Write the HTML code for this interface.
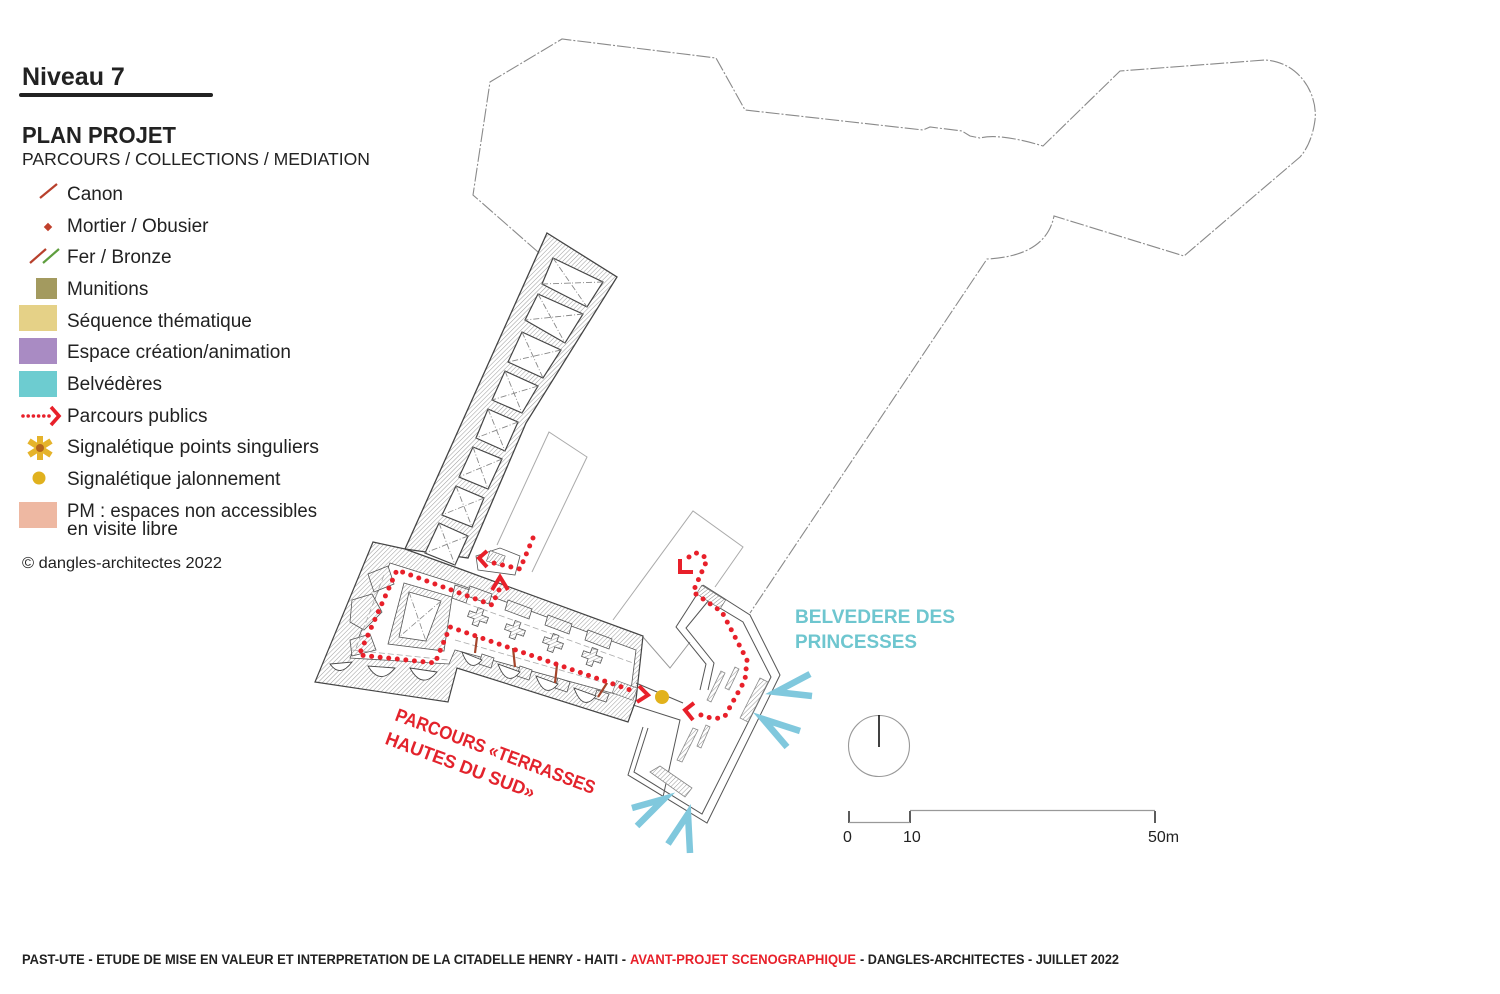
<!DOCTYPE html>
<html><head><meta charset="utf-8">
<style>
html,body{margin:0;padding:0;background:#fff;}
svg{display:block;}
text{font-family:"Liberation Sans",Arial,sans-serif;}
</style></head><body>
<svg width="1500" height="994" viewBox="0 0 1500 994" xmlns="http://www.w3.org/2000/svg">
<defs>
<pattern id="h" width="3.2" height="3.2" patternUnits="userSpaceOnUse" patternTransform="rotate(45)">
<rect width="3.2" height="3.2" fill="#fff"/>
<line x1="0" y1="0" x2="0" y2="3.2" stroke="#9a9a9a" stroke-width="1"/>
</pattern>
<pattern id="st" width="3" height="3" patternUnits="userSpaceOnUse" patternTransform="rotate(20)">
<rect width="3" height="3" fill="#fff"/>
<line x1="0" y1="0" x2="0" y2="3" stroke="#666" stroke-width="0.8"/>
</pattern>
<path id="cross" d="M-10,-3 H-3 V-9 H3 V-3 H10 V3 H3 V9 H-3 V3 H-10 Z"/>
</defs>
<rect width="1500" height="994" fill="#fff"/>

<!-- ============ LEGEND ============ -->
<text x="22" y="85" font-size="25" font-weight="bold" fill="#222">Niveau 7</text>
<line x1="21" y1="95" x2="211" y2="95" stroke="#222" stroke-width="4" stroke-linecap="round"/>
<text x="22" y="143" font-size="23" font-weight="bold" fill="#222" textLength="154" lengthAdjust="spacingAndGlyphs">PLAN PROJET</text>
<text x="22" y="165" font-size="17.5" fill="#222" textLength="348" lengthAdjust="spacingAndGlyphs">PARCOURS / COLLECTIONS / MEDIATION</text>

<g font-size="19" fill="#222">
<text x="67" y="200">Canon</text>
<text x="67" y="232">Mortier / Obusier</text>
<text x="67" y="263">Fer / Bronze</text>
<text x="67" y="295">Munitions</text>
<text x="67" y="327">Séquence thématique</text>
<text x="67" y="358">Espace création/animation</text>
<text x="67" y="390">Belvédères</text>
<text x="67" y="422">Parcours publics</text>
<text x="67" y="453" textLength="252" lengthAdjust="spacingAndGlyphs">Signalétique points singuliers</text>
<text x="67" y="485">Signalétique jalonnement</text>
<text x="67" y="517" textLength="250" lengthAdjust="spacingAndGlyphs">PM : espaces non accessibles</text>
<text x="67" y="535">en visite libre</text>
</g>
<text x="22" y="568" font-size="16" fill="#222" textLength="200" lengthAdjust="spacingAndGlyphs">© dangles-architectes 2022</text>

<!-- legend icons -->
<line x1="40" y1="198" x2="57" y2="184" stroke="#b8402c" stroke-width="2.2"/>
<rect x="45" y="224" width="6" height="6" fill="#c0402c" transform="rotate(45 48 227)"/>
<line x1="30" y1="263" x2="46" y2="249" stroke="#b8402c" stroke-width="2.2"/>
<line x1="43" y1="263" x2="59" y2="249" stroke="#5e9e3e" stroke-width="2.2"/>
<rect x="36" y="278" width="21" height="21" fill="#a39a5f"/>
<rect x="19" y="305" width="38" height="26" fill="#e5d187"/>
<rect x="19" y="338" width="38" height="26" fill="#a98bc3"/>
<rect x="19" y="371" width="38" height="26" fill="#6dccd0"/>
<line x1="23" y1="416" x2="49" y2="416" stroke="#e8202a" stroke-width="3.6" stroke-dasharray="0 5.2" stroke-linecap="round"/>
<polyline points="51,407 59,416 51,425" fill="none" stroke="#e8202a" stroke-width="3.6"/>
<g transform="translate(40,448)" stroke="#e5b32b" stroke-width="6" stroke-linecap="butt">
<line x1="0" y1="-12" x2="0" y2="12"/>
<line x1="-11" y1="-7" x2="11" y2="7"/>
<line x1="-11" y1="7" x2="11" y2="-7"/>
</g>
<circle cx="40" cy="448" r="4" fill="#b5651d"/>
<circle cx="39" cy="478" r="6.5" fill="#e0b11e"/>
<rect x="19" y="502" width="38" height="26" fill="#eeb8a2"/>

<!-- ============ SITE OUTLINE (dash-dot) ============ -->
<path d="M538,252 L473,195 L490,82 L562,39 L716,58 L745,110 L923,130 L930,127 L962,131 L970,136 L980,138 Q1000,133 1043,146 L1120,71 L1265,60 C1300,62 1318,95 1315,120 C1313,135 1308,148 1300,157 L1184,256 L1054,216 Q1046,256 987,259 L750,613"
 fill="none" stroke="#8a8a8a" stroke-width="1.1" stroke-dasharray="14 2 2 2"/>

<!-- thin gray rectangles -->
<polyline points="497,545 549,432 587,457 532,572" fill="none" stroke="#aaa" stroke-width="1"/>
<polyline points="613,620 693,511 743,547 715,587" fill="none" stroke="#aaa" stroke-width="1"/>
<polyline points="643,637 670,668 690,642" fill="none" stroke="#999" stroke-width="1"/>

<!-- ============ TOWER ============ -->
<polygon points="547,233 617,277 526,423 468,558 405,549" fill="url(#h)" stroke="#444" stroke-width="1.3"/>
<g fill="#fff" stroke="#444" stroke-width="1.2">
<polygon points="553,258 603,282 587,307 542,284"/>
<polygon points="538,294 583,314 565,343 525,320"/>
<polygon points="522,332 561,350 543,378 508,362"/>
<polygon points="505,371 538,386 522,413 492,400"/>
<polygon points="488,409 518,422 505,451 476,438"/>
<polygon points="473,447 502,459 488,489 459,477"/>
<polygon points="456,486 484,498 472,527 442,515"/>
<polygon points="439,523 468,536 455,565 425,553"/>
</g>
<g stroke="#888" stroke-width="0.9" stroke-dasharray="6 2 1 2" fill="none">
<line x1="553" y1="258" x2="587" y2="307"/><line x1="603" y1="282" x2="542" y2="284"/>
<line x1="538" y1="294" x2="565" y2="343"/><line x1="583" y1="314" x2="525" y2="320"/>
<line x1="522" y1="332" x2="543" y2="378"/><line x1="561" y1="350" x2="508" y2="362"/>
<line x1="505" y1="371" x2="522" y2="413"/><line x1="538" y1="386" x2="492" y2="400"/>
<line x1="488" y1="409" x2="505" y2="451"/><line x1="518" y1="422" x2="476" y2="438"/>
<line x1="473" y1="447" x2="488" y2="489"/><line x1="502" y1="459" x2="459" y2="477"/>
<line x1="456" y1="486" x2="472" y2="527"/><line x1="484" y1="498" x2="442" y2="515"/>
<line x1="439" y1="523" x2="455" y2="565"/><line x1="468" y1="536" x2="425" y2="553"/>
</g>

<!-- ============ MAIN BUILDING ============ -->
<polygon points="373,542 405,549 463,570 643,636 636,700 628,722 457,668 448,702 315,682" fill="url(#h)" stroke="#444" stroke-width="1.2"/>
<!-- small room near tower base with stair -->
<polygon points="476,556 500,548 520,556 515,575 478,570" fill="#fff" stroke="#555" stroke-width="0.8"/>
<rect x="488" y="553" width="16" height="11" fill="url(#st)" stroke="#666" stroke-width="0.6" transform="rotate(20 496 558)"/>
<!-- interiors -->
<polygon points="390,563 463,586 636,650 630,698 455,650 449,664 350,658" fill="#fff" stroke="#555" stroke-width="0.8"/>
<!-- left wing piers -->
<polygon points="352,600 372,594 382,612 364,630 350,622" fill="url(#h)" stroke="#555" stroke-width="0.8"/>
<polygon points="368,574 388,566 394,584 374,592" fill="url(#h)" stroke="#555" stroke-width="0.8"/>
<polygon points="350,640 370,634 376,650 352,656" fill="url(#h)" stroke="#555" stroke-width="0.8"/>
<polygon points="455,585 470,590 466,603 452,598" fill="url(#h)" stroke="#555" stroke-width="0.8"/>
<!-- central block with X-room -->
<polygon points="404,583 452,597 444,651 388,644" fill="url(#h)" stroke="#555" stroke-width="0.8"/>
<polygon points="409,592 441,601 426,641 399,637" fill="#fff" stroke="#555" stroke-width="0.8"/>
<g stroke="#888" stroke-width="0.8" stroke-dasharray="6 2 1 2"><line x1="409" y1="592" x2="426" y2="641"/><line x1="441" y1="601" x2="399" y2="637"/></g>
<!-- main wing top wall protrusions -->
<g fill="url(#h)" stroke="#555" stroke-width="0.8">
<polygon points="470,586 492,594 489,604 467,596"/>
<polygon points="508,600 532,609 529,619 505,610"/>
<polygon points="548,615 572,624 569,634 545,625"/>
<polygon points="588,630 612,639 609,649 585,640"/>
</g>
<g fill="url(#h)" stroke="#555" stroke-width="0.8">
<use href="#cross" transform="translate(478,617) rotate(20)"/>
<use href="#cross" transform="translate(515,630) rotate(20)"/>
<use href="#cross" transform="translate(553,643) rotate(20)"/>
<use href="#cross" transform="translate(592,657) rotate(20)"/>
</g>
<!-- bottom wall piers -->
<g fill="url(#h)" stroke="#555" stroke-width="0.8">
<polygon points="482,654 494,658 491,668 479,664"/>
<polygon points="520,666 532,670 529,680 517,676"/>
<polygon points="558,678 570,682 567,692 555,688"/>
<polygon points="597,690 609,694 606,702 594,698"/>
</g>
<!-- bottom scallops -->
<g fill="#fff" stroke="#444" stroke-width="0.9">
<path d="M462,652 Q470,674 482,660 Z"/>
<path d="M498,664 Q507,688 520,672 Z"/>
<path d="M536,676 Q545,700 558,684 Z"/>
<path d="M574,688 Q583,712 596,696 Z"/>
<path d="M330,664 Q340,678 352,662 Z"/>
<path d="M368,666 Q380,686 395,668 Z"/>
<path d="M410,668 Q422,690 437,672 Z"/>
</g>
<!-- dashed axes -->
<g stroke="#aaa" stroke-width="0.8" stroke-dasharray="6 3" fill="none">
<line x1="455" y1="640" x2="630" y2="690"/>
<line x1="465" y1="603" x2="636" y2="664"/>
<line x1="352" y1="650" x2="448" y2="660"/>
<line x1="384" y1="575" x2="356" y2="648"/>
</g>
<!-- canons -->
<g stroke="#a4452b" stroke-width="2.2">
<line x1="477" y1="637" x2="475" y2="653"/>
<line x1="513" y1="648" x2="515" y2="667"/>
<line x1="557" y1="665" x2="555" y2="683"/>
<line x1="607" y1="683" x2="598" y2="697"/>
</g>
<!-- stair at right end -->
<rect x="614" y="684" width="22" height="13" fill="url(#st)" stroke="#666" stroke-width="0.6" transform="rotate(20 625 690)"/>

<!-- ============ ANNEX ============ -->
<g fill="none" stroke="#555" stroke-width="1">
<polyline points="703,585 750,615 780,675 707,823 628,775 643,727"/>
<polyline points="700,596 743,622 771,677 702,814 634,772 648,728"/>
<polyline points="703,585 676,627 706,664 700,690"/>
<polyline points="709,600 686,628 714,663 708,690"/>
<polyline points="636,683 683,703"/>
<polyline points="633,705 680,720 663,797"/>
</g>
<rect x="697" y="592" width="28" height="10" fill="url(#st)" stroke="#666" stroke-width="0.6" transform="rotate(32 711 597)"/>
<g fill="url(#h)" stroke="#888" stroke-width="0.8">
<polygon points="707,700 721,671 725,673 711,702"/>
<polygon points="725,688 735,667 739,669 729,690"/>
<polygon points="740,718 760,678 768,682 748,722"/>
<polygon points="677,760 693,728 698,730 682,762"/>
<polygon points="697,746 706,725 710,727 701,748"/>
<polygon points="650,772 660,766 692,788 685,797"/>
</g>

<!-- ============ RED PATHS ============ -->
<g fill="none" stroke="#e8202a" stroke-width="5" stroke-dasharray="0 8.6" stroke-linecap="round" stroke-linejoin="round">
<path d="M499,590 L492,605 L397,570 L359,655 L435,663 L450,627 L636,692"/>
<path d="M533,538 L520,569 L489,562"/>
<path d="M689,557 Q698,548 707,560 L693,592 L722,612 L747,660 L745,680 L725,716 Q715,722 694,712"/>
</g>
<g fill="none" stroke="#e8202a" stroke-width="4" stroke-linecap="butt" stroke-linejoin="miter">
<polyline points="492,590 500,577 508,590"/>
<polyline points="487,551 479,558 487,567"/>
<polyline points="639,686 648,695 637,702"/>
<polyline points="680,559 680,572 693,572"/>
<polyline points="694,703 685,710 693,720"/>
</g>
<circle cx="662" cy="697" r="7" fill="#e2b21c"/>

<!-- ============ BELVEDERE ARROWS ============ -->
<g fill="none" stroke="#80c8dd" stroke-width="6.5" stroke-linecap="butt" stroke-linejoin="miter">
<polyline points="810,674 776,692 812,696"/>
<polyline points="800,731 763,719 787,747"/>
<polyline points="632,808 664,799 637,826"/>
<polyline points="668,844 688,814 690,853"/>
</g>

<text x="795" y="623" font-size="19" font-weight="bold" fill="#6ec6cf" textLength="160" lengthAdjust="spacingAndGlyphs">BELVEDERE DES</text>
<text x="795" y="648" font-size="19" font-weight="bold" fill="#6ec6cf" textLength="122" lengthAdjust="spacingAndGlyphs">PRINCESSES</text>

<g transform="translate(394,720) rotate(20.5)" fill="#e3232c" font-size="18.5" font-weight="bold">
<text x="0" y="0" textLength="212" lengthAdjust="spacingAndGlyphs">PARCOURS «TERRASSES</text>
<text x="-1" y="25.5" textLength="158" lengthAdjust="spacingAndGlyphs">HAUTES DU SUD»</text>
</g>

<!-- ============ COMPASS & SCALE ============ -->
<circle cx="879" cy="746" r="30.5" fill="none" stroke="#999" stroke-width="1.1"/>
<line x1="879" y1="715" x2="879" y2="747" stroke="#111" stroke-width="1.6"/>
<g stroke="#333" stroke-width="1.6">
<line x1="849" y1="811" x2="849" y2="823"/>
<line x1="910" y1="811" x2="910" y2="823"/>
<line x1="1155" y1="811" x2="1155" y2="823"/>
</g>
<line x1="849" y1="822.5" x2="910" y2="822.5" stroke="#999" stroke-width="1.2"/>
<line x1="910" y1="810.5" x2="1155" y2="810.5" stroke="#999" stroke-width="1.2"/>
<g font-size="16" fill="#222">
<text x="843" y="842">0</text>
<text x="903" y="842">10</text>
<text x="1148" y="842">50m</text>
</g>

<!-- ============ FOOTER ============ -->
<g font-size="13.5" font-weight="bold">
<text x="22" y="964" fill="#222" textLength="604" lengthAdjust="spacingAndGlyphs">PAST-UTE - ETUDE DE MISE EN VALEUR ET INTERPRETATION DE LA CITADELLE HENRY - HAITI -</text>
<text x="630" y="964" fill="#e8202a" textLength="226" lengthAdjust="spacingAndGlyphs">AVANT-PROJET SCENOGRAPHIQUE</text>
<text x="860" y="964" fill="#222" textLength="259" lengthAdjust="spacingAndGlyphs">- DANGLES-ARCHITECTES - JUILLET 2022</text>
</g>
</svg>
</body></html>
